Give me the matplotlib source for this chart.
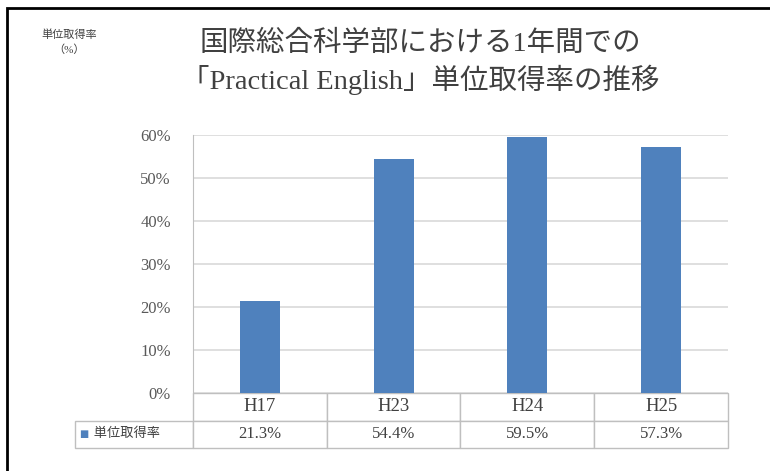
import matplotlib.pyplot as plt
from matplotlib.patches import Rectangle
from matplotlib.ticker import PercentFormatter

years = ['H17', 'H23', 'H24', 'H25']
rates = [0.213, 0.544, 0.595, 0.573]
series_name = '単位取得率'
title_lines = ['国際総合科学部における1年間での', '「Practical English」単位取得率の推移']
ylabel = '単位取得率\n（%）'

fonts = ['Liberation Serif', 'Noto Sans CJK JP', 'DejaVu Sans']
plt.rcParams['font.family'] = fonts

bar_color = '#4f81bd'
grid_color = '#d9d9d9'
edge_color = '#bfbfbf'

fig = plt.figure(figsize=(7.7, 4.71), dpi=100)
# plot area in pixels: x 193..728, y 135..393
ax = fig.add_axes([193 / 770, 1 - 393 / 471, 535 / 770, 258 / 471])

x = range(len(years))
ax.bar(x, rates, width=0.3, color=bar_color, zorder=3)
ax.set_xlim(-0.5, len(years) - 0.5)
ax.set_ylim(0, 0.6)
ax.set_yticks([i / 10 for i in range(7)])
ax.yaxis.set_major_formatter(PercentFormatter(1.0, decimals=0))
ax.set_xticks([])
ax.grid(axis='y', color=grid_color, linewidth=1.2, zorder=0)
for s in ['top', 'right', 'bottom']:
    ax.spines[s].set_visible(False)
ax.spines['left'].set_color(edge_color)
ax.tick_params(axis='y', length=0, pad=16, labelsize=12, labelcolor='#595959')

# data table under the plot
cells = [[f'{v * 100:.1f}%' for v in rates]]
lab_w = 118 / 535
tbl = ax.table(cellText=cells, colLabels=years, rowLabels=['  ' + series_name],
               colWidths=[0.25] * len(years),
               cellLoc='center', rowLoc='left',
               bbox=[0, -55 / 258, 1, 55 / 258])
tbl._autoColumns = []
tbl[(1, -1)].set_width(lab_w)
tbl.auto_set_font_size(False)
for (r, c), cell in tbl.get_celld().items():
    cell.set_edgecolor(edge_color)
    cell.set_linewidth(1.0)
    cell.get_text().set_color('#404040')
    if r == 0:
        cell.get_text().set_fontsize(13.5)
    elif c == -1:
        cell.get_text().set_fontsize(9.5)
    else:
        cell.get_text().set_fontsize(12)
ax.text(-lab_w + 0.008, -41 / 258, '■', transform=ax.transAxes, color=bar_color,
        fontsize=7, va='center', ha='left', family=['DejaVu Sans'])

# titles
fig.text(420 / 770, 1 - 44 / 471, title_lines[0], ha='center', va='center',
         fontsize=20.5, color='#404040')
fig.text(420 / 770, 1 - 80 / 471, title_lines[1], ha='center', va='center',
         fontsize=20.5, color='#404040')
fig.text(69 / 770, 1 - 42 / 471, ylabel, ha='center', va='center',
         fontsize=8, color='#404040', linespacing=1.5)

# outer frame
fig.patches.append(Rectangle((7 / 770, -0.1), 1.2, 1 - 8 / 471 + 0.1,
                             transform=fig.transFigure, fill=False,
                             edgecolor='black', linewidth=2))

fig.savefig('out.png', dpi=100)
